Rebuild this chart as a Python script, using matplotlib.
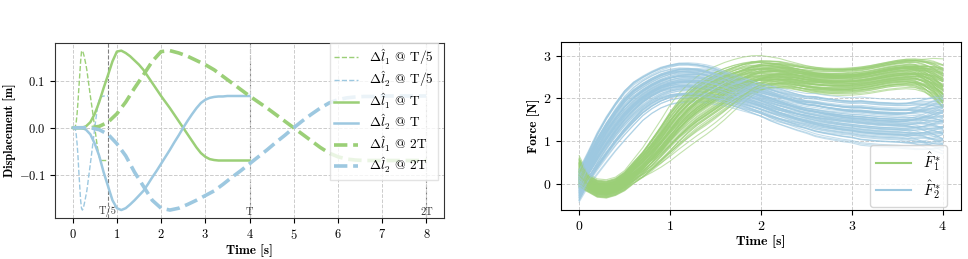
import numpy as np
import matplotlib
matplotlib.use('Agg')
import matplotlib.pyplot as plt
import matplotlib.transforms as transforms

plt.rcParams['font.family'] = ['cmr10', 'DejaVu Serif']
plt.rcParams['mathtext.fontset'] = 'cm'
plt.rcParams['axes.formatter.use_mathtext'] = True
plt.rcParams['axes.unicode_minus'] = True

GREEN = '#9bcf77'
BLUE = '#9dc8e0'

dl1_T = [0.0, 0.0, 0.0, 0.003, 0.012, 0.030, 0.055, 0.085, 0.113, 0.142,
         0.163, 0.165, 0.160, 0.153, 0.144, 0.135, 0.124, 0.110, 0.096, 0.082,
         0.068, 0.055, 0.042, 0.028, 0.014, 0.000, -0.014, -0.028, -0.042, -0.054,
         -0.062, -0.067, -0.069, -0.070, -0.070, -0.070, -0.070, -0.070, -0.070, -0.070,
         -0.070]
dl2_T = [0.0, 0.0, 0.0, -0.004, -0.014, -0.034, -0.060, -0.095, -0.125, -0.155,
         -0.172, -0.176, -0.172, -0.164, -0.155, -0.145, -0.135, -0.121, -0.106, -0.092,
         -0.077, -0.062, -0.047, -0.031, -0.016, 0.000, 0.015, 0.029, 0.042, 0.053,
         0.060, 0.064, 0.066, 0.067, 0.067, 0.068, 0.068, 0.068, 0.068, 0.068,
         0.068]
durations = [0.8, 4.0, 8.0]
duration_names = ['T/5', 'T', '2T']

# ---- force samples: band centre, half width and a shape mode (t = 0 .. 4 s, step 0.1) ----
F1_mid = [0.25, 0.00, -0.12, -0.14, -0.08, 0.05, 0.26, 0.46, 0.70, 0.95,
          1.22, 1.47, 1.68, 1.86, 2.00, 2.13, 2.25, 2.36, 2.45, 2.52,
          2.56, 2.57, 2.56, 2.53, 2.49, 2.45, 2.42, 2.40, 2.39, 2.39,
          2.40, 2.42, 2.45, 2.49, 2.53, 2.56, 2.58, 2.57, 2.52, 2.43,
          2.30]
F1_half = [0.35, 0.20, 0.20, 0.20, 0.20, 0.22, 0.25, 0.28, 0.32, 0.35,
           0.38, 0.38, 0.37, 0.36, 0.35, 0.34, 0.33, 0.32, 0.32, 0.32,
           0.32, 0.31, 0.31, 0.30, 0.30, 0.30, 0.30, 0.30, 0.30, 0.30,
           0.30, 0.30, 0.30, 0.30, 0.30, 0.31, 0.32, 0.34, 0.38, 0.44,
           0.50]
F1_shape = [0.0, 0.0, 0.0, 0.0, 0.0, 0.0, -0.05, -0.12, -0.20, -0.28,
            -0.36, -0.42, -0.46, -0.48, -0.48, -0.46, -0.42, -0.36, -0.29, -0.22,
            -0.15, -0.09, -0.04, 0.0, 0.03, 0.06, 0.08, 0.10, 0.12, 0.13,
            0.14, 0.15, 0.16, 0.17, 0.18, 0.18, 0.17, 0.14, 0.08, 0.0,
            -0.10]
F2_mid = [-0.05, 0.35, 0.72, 1.05, 1.35, 1.62, 1.84, 2.02, 2.16, 2.27,
          2.34, 2.38, 2.39, 2.38, 2.35, 2.30, 2.24, 2.17, 2.10, 2.03,
          1.96, 1.89, 1.82, 1.76, 1.70, 1.65, 1.61, 1.57, 1.54, 1.51,
          1.49, 1.47, 1.45, 1.43, 1.42, 1.41, 1.40, 1.40, 1.40, 1.40,
          1.40]
F2_half = [0.35, 0.36, 0.42, 0.45, 0.46, 0.47, 0.45, 0.40, 0.38, 0.37,
           0.37, 0.38, 0.38, 0.38, 0.38, 0.38, 0.36, 0.36, 0.36, 0.36,
           0.36, 0.38, 0.38, 0.38, 0.38, 0.38, 0.41, 0.41, 0.41, 0.41,
           0.41, 0.44, 0.44, 0.44, 0.44, 0.44, 0.46, 0.50, 0.54, 0.58,
           0.60]
F2_shape = [0.0, 0.05, 0.10, 0.14, 0.17, 0.19, 0.20, 0.20, 0.19, 0.18,
            0.16, 0.14, 0.12, 0.10, 0.08, 0.06, 0.04, 0.02, 0.0, -0.02,
            -0.04, -0.06, -0.08, -0.10, -0.12, -0.14, -0.15, -0.16, -0.17, -0.18,
            -0.19, -0.20, -0.20, -0.20, -0.20, -0.20, -0.19, -0.16, -0.10, -0.02,
            0.08]

# per-sample position inside the band (w) and amount of the shape mode (v)
F1_w = [-1.0, -0.9, -0.85, -0.8, -0.7, -0.65, -0.6, -0.55, -0.5, -0.45, -0.4, -0.35,
        -0.3, -0.25, -0.2, -0.15, -0.1, -0.05, 0.0, 0.05, 0.1, 0.15, 0.2, 0.25,
        0.3, 0.35, 0.4, 0.45, 0.5, 0.55, 0.6, 0.65, 0.7, 0.8, 0.9, 1.0,
        -0.3, 0.2, 0.6, 1.15, -0.5, 0.1,
        -0.95, -0.75, -0.62, -0.48, -0.38, -0.28, -0.18, -0.08, 0.02, 0.12,
        0.22, 0.32, 0.42, 0.52, 0.62, 0.72, 0.85, 0.95, -0.88, -0.58,
        -0.33, -0.12, 0.08, 0.28, 0.48, 0.68, 0.88, -0.7, -0.42, -0.22,
        0.0, 0.18, 0.38, 0.58, 0.78, -0.15, 0.33, 1.05]
F1_v = [0.2, -0.4, 0.5, 0.1, -0.6, 0.3, 0.0, 0.8, -0.2, 0.4, -0.5, 0.1,
        0.6, -0.3, 0.2, -0.5, 0.5, 0.0, -0.4, 0.3, 0.7, -0.2, 0.1, -0.6,
        0.4, -0.1, 0.5, -0.5, 0.2, -0.3, 0.6, 0.0, -0.4, 0.3, -0.2, 0.1,
        1.3, 1.1, -0.6, -0.5, 1.4, 0.9,
        0.3, -0.2, 0.4, -0.5, 0.1, 0.6, -0.3, 0.2, -0.1, 0.5,
        -0.4, 0.3, 0.0, -0.2, 0.4, -0.5, 0.2, -0.1, 0.6, -0.3,
        0.1, 0.4, -0.6, 0.2, 0.0, -0.4, 0.3, 0.5, -0.2, 0.1,
        0.7, -0.5, 0.2, -0.1, 0.4, 1.2, 0.9, -0.3]
F2_w = [-1.0, -0.95, -0.85, -0.8, -0.75, -0.65, -0.6, -0.5, -0.45, -0.4, -0.3, -0.25,
        -0.2, -0.15, -0.1, 0.0, 0.05, 0.1, 0.15, 0.2, 0.3, 0.35, 0.4, 0.45,
        0.5, 0.6, 0.65, 0.7, 0.75, 0.8, 0.9, 0.95, 1.0,
        -0.55, -0.05, 0.25, 0.55, 0.85, -0.35, 0.4, 1.1, -1.1,
        -0.9, -0.7, -0.52, -0.36, -0.22, -0.08, 0.08, 0.22, 0.38, 0.52,
        0.68, 0.82, -0.98, -0.62, -0.42, -0.28, -0.12, 0.02, 0.18, 0.32,
        0.48, 0.62, 0.78, 0.92, -0.78, -0.46, -0.18, 0.12, 0.42, 0.72,
        -0.32, 0.28, 0.58, -0.68, 1.05, -0.02]
F2_v = [0.5, -0.8, 0.3, -0.2, 0.9, -0.5, 0.1, 0.6, -0.9, 0.2, -0.4, 0.7,
        -0.1, 0.4, -0.7, 0.0, 0.8, -0.3, 0.5, -0.6, 0.2, -0.9, 0.6, -0.2,
        0.9, -0.5, 0.3, -0.8, 0.1, 0.7, -0.4, 0.5, -0.6,
        1.0, -1.0, 0.3, -0.3, 0.8, 0.6, -0.7, 0.2, -0.5,
        -0.3, 0.6, -0.6, 0.2, 0.8, -0.4, 0.1, -0.8, 0.5, -0.1,
        0.3, -0.5, 0.7, -0.2, 0.4, -0.7, 0.0, 0.6, -0.3, 0.9,
        -0.6, 0.2, -0.4, 0.5, 0.1, -0.9, 0.4, -0.2, 0.7, -0.5,
        0.3, -0.1, 0.8, -0.8, 0.0, 0.5]

t_profile = np.linspace(0, 4, len(dl1_T))
t_force = np.linspace(0, 4, len(F1_mid))

fig = plt.figure(figsize=(9.68, 2.59), dpi=100)
ax = fig.add_axes([0.0568, 0.1583, 0.4019, 0.6768])
ax2 = fig.add_axes([0.5795, 0.1892, 0.4130, 0.6486])

# ---------------- left: displacement at three durations ----------------
styles = {'T/5': dict(ls='--', lw=1.0), 'T': dict(ls='-', lw=1.8), '2T': dict(ls='--', lw=2.6)}
for dur, name in zip(durations, duration_names):
    tt = t_profile * dur / 4.0
    ax.plot(tt, dl1_T, color=GREEN, label=r'$\Delta\hat{l}_1$ @ ' + name, **styles[name])
    ax.plot(tt, dl2_T, color=BLUE, label=r'$\Delta\hat{l}_2$ @ ' + name, **styles[name])

trans = transforms.blended_transform_factory(ax.transData, ax.transAxes)
for dur, name in zip(durations, duration_names):
    ax.axvline(dur, color='#808080', ls='--', lw=0.8, zorder=0)
    ax.text(dur, 0.008, name, transform=trans, ha='center', va='bottom', fontsize=7.5, color='#333333')

ax.set_xlim(-0.4, 8.4)
ax.set_ylim(-0.193, 0.182)
ax.set_xticks(range(0, 9))
ax.set_yticks([-0.1, 0.0, 0.1])
ax.grid(True, ls='--', lw=0.7, color='#cccccc')
ax.set_axisbelow(True)
ax.tick_params(labelsize=9)
ax.set_xlabel('Time [s]', fontfamily=['cmb10'], fontsize=9.5, labelpad=2)
ax.set_ylabel('Displacement [m]', fontfamily=['cmb10'], fontsize=8.8, labelpad=2)
ax.legend(loc='upper right', bbox_to_anchor=(0.985, 1.0), borderaxespad=0, fontsize=9.6,
          handlelength=1.8, labelspacing=0.18, handletextpad=0.8, borderpad=0.35,
          fancybox=False, edgecolor='#dddddd')
for sp in ax.spines.values():
    sp.set_color('#333333')

# ---------------- right: sampled forces ----------------
for w1, v1, w2, v2 in zip(F1_w, F1_v, F2_w, F2_v):
    f2 = np.array(F2_mid) + w2 * np.array(F2_half) + v2 * np.array(F2_shape)
    f1 = np.array(F1_mid) + w1 * np.array(F1_half) + v1 * np.array(F1_shape)
    ax2.plot(t_force, f2, color=BLUE, lw=0.8, alpha=0.6)
    ax2.plot(t_force, f1, color=GREEN, lw=0.8, alpha=0.6)

ax2.plot([], [], color=GREEN, lw=1.5, label=r'$\hat{F}_1^*$')
ax2.plot([], [], color=BLUE, lw=1.5, label=r'$\hat{F}_2^*$')
ax2.set_xlim(-0.2, 4.2)
ax2.set_ylim(-0.62, 3.32)
ax2.set_xticks(range(0, 5))
ax2.set_yticks([0, 1, 2, 3])
ax2.grid(True, ls='--', lw=0.7, color='#cccccc')
ax2.set_axisbelow(True)
ax2.tick_params(labelsize=10)
ax2.set_xlabel('Time [s]', fontfamily=['cmb10'], fontsize=10, labelpad=2)
ax2.set_ylabel('Force [N]', fontfamily=['cmb10'], fontsize=9.5, labelpad=2)
ax2.legend(loc='lower right', bbox_to_anchor=(0.965, 0.02), borderaxespad=0, fontsize=10.5,
           handlelength=2.4, labelspacing=0.3)

fig.savefig('out.png', dpi=100)
